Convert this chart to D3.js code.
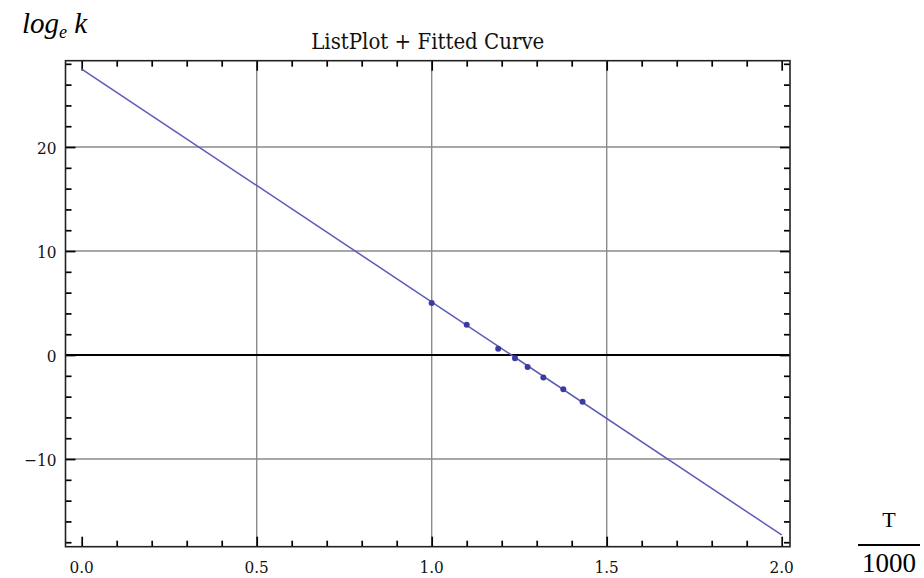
<!DOCTYPE html>
<html>
<head>
<meta charset="utf-8">
<script src="https://cdn.jsdelivr.net/npm/d3@7"></script>
<style>
  body { margin: 0; background: #fff; }
  svg { display: block; }
  .tick-label { font-family: "DejaVu Serif Condensed", "DejaVu Serif", serif; font-size: 17px; fill: #111; }
</style>
</head>
<body>
<svg id="chart" width="924" height="578"></svg>
<script>
// data
const pointX = [1.0, 1.1, 1.19, 1.238, 1.274, 1.319, 1.376, 1.431];
const pointY = [5.0, 2.9, 0.6, -0.3, -1.15, -2.15, -3.3, -4.5];
const fitX = [0.0, 2.0];
const fitY = [27.5, -17.3];
const xMajor = [0, 0.5, 1.0, 1.5, 2.0];
const xLabels = ["0.0", "0.5", "1.0", "1.5", "2.0"];
const yMajor = [-10, 0, 10, 20];
const yLabels = ["\u221210", "0", "10", "20"];
const xMinor = [0.1, 0.2, 0.3, 0.4, 0.6, 0.7, 0.8, 0.9, 1.1, 1.2, 1.3, 1.4, 1.6, 1.7, 1.8, 1.9];
const yMinor = [-18, -16, -14, -12, -8, -6, -4, -2, 2, 4, 6, 8, 12, 14, 16, 18, 22, 24, 26, 28];

const svg = d3.select("#chart");
const frame = { left: 65.5, right: 790, top: 60.7, bottom: 546.7 };

const x = d3.scaleLinear().domain([-0.0463, 2.0237]).range([frame.left, frame.right]);
const y = d3.scaleLinear().domain([-18.43, 28.3]).range([frame.bottom, frame.top]);

// grid
const grid = svg.append("g");
grid.selectAll("line.gx")
  .data(xMajor.filter(d => d > 0 && d < 2))
  .join("line")
    .attr("x1", d => x(d)).attr("x2", d => x(d))
    .attr("y1", frame.top).attr("y2", frame.bottom)
    .attr("stroke", "#8a8a8a").attr("stroke-width", 1.4);
grid.selectAll("line.gy")
  .data(yMajor.filter(d => d !== 0))
  .join("line")
    .attr("x1", frame.left).attr("x2", frame.right)
    .attr("y1", d => y(d)).attr("y2", d => y(d))
    .attr("stroke", "#8a8a8a").attr("stroke-width", 1.4);

// zero axis
svg.append("line")
  .attr("x1", frame.left).attr("x2", frame.right)
  .attr("y1", y(0)).attr("y2", y(0))
  .attr("stroke", "#000").attr("stroke-width", 2.2);

// ticks on all four sides, pointing inward
function ticks(axis, values, size, transform) {
  const g = svg.append("g")
    .attr("transform", transform)
    .call(axis.tickValues(values).tickSize(size).tickFormat(""));
  g.select(".domain").remove();
  g.selectAll("line").attr("stroke", "#000").attr("stroke-width", 1.7);
}
ticks(d3.axisBottom(x), xMajor, -10, `translate(0,${frame.bottom})`);
ticks(d3.axisBottom(x), xMinor, -6, `translate(0,${frame.bottom})`);
ticks(d3.axisTop(x), xMajor, -10, `translate(0,${frame.top})`);
ticks(d3.axisTop(x), xMinor, -6, `translate(0,${frame.top})`);
ticks(d3.axisLeft(y), yMajor, -10, `translate(${frame.left},0)`);
ticks(d3.axisLeft(y), yMinor, -6, `translate(${frame.left},0)`);
ticks(d3.axisRight(y), yMajor, -10, `translate(${frame.right},0)`);
ticks(d3.axisRight(y), yMinor, -6, `translate(${frame.right},0)`);

// frame
svg.append("rect")
  .attr("x", frame.left).attr("y", frame.top)
  .attr("width", frame.right - frame.left).attr("height", frame.bottom - frame.top)
  .attr("fill", "none").attr("stroke", "#222").attr("stroke-width", 1.6);

// tick labels
svg.append("g").selectAll("text")
  .data(xMajor)
  .join("text")
    .attr("class", "tick-label")
    .attr("x", d => x(d)).attr("y", 573)
    .attr("text-anchor", "middle")
    .text((d, i) => xLabels[i]);
svg.append("g").selectAll("text")
  .data(yMajor)
  .join("text")
    .attr("class", "tick-label")
    .attr("x", frame.left - 9).attr("y", d => y(d) + 6.5)
    .attr("text-anchor", "end")
    .text((d, i) => yLabels[i]);

// fitted line
const line = d3.line().x(d => x(d[0])).y(d => y(d[1]));
svg.append("path")
  .datum(d3.zip(fitX, fitY))
  .attr("d", line)
  .attr("fill", "none")
  .attr("stroke", "#5a5ab8").attr("stroke-width", 1.5);

// points
svg.append("g").selectAll("circle")
  .data(d3.zip(pointX, pointY))
  .join("circle")
    .attr("cx", d => x(d[0])).attr("cy", d => y(d[1]))
    .attr("r", 3)
    .attr("fill", "#3a3aa0");

// title
svg.append("text")
  .attr("x", (frame.left + frame.right) / 2).attr("y", 49)
  .attr("text-anchor", "middle")
  .style("font-family", "DejaVu Serif Condensed, DejaVu Serif, serif")
  .style("font-size", "22px")
  .style("fill", "#111")
  .text("ListPlot + Fitted Curve");

// y label: log_e k
const yl = svg.append("text")
  .attr("x", 22).attr("y", 33)
  .style("font-family", "Liberation Serif, serif")
  .style("font-style", "italic")
  .style("font-size", "29px");
yl.append("tspan").text("log");
yl.append("tspan").attr("dy", 5).style("font-size", "18px").text("e");
yl.append("tspan").attr("dy", -5).text(" k");

// x label: T / 1000
const xl = svg.append("g").style("font-family", "Liberation Serif, serif");
xl.append("text")
  .attr("x", 889).attr("y", 527)
  .attr("text-anchor", "middle")
  .style("font-size", "22px")
  .text("T");
xl.append("line")
  .attr("x1", 858).attr("x2", 920)
  .attr("y1", 545).attr("y2", 545)
  .attr("stroke", "#000").attr("stroke-width", 2);
xl.append("text")
  .attr("x", 889).attr("y", 572)
  .attr("text-anchor", "middle")
  .style("font-size", "27px")
  .text("1000");
</script>
</body>
</html>
